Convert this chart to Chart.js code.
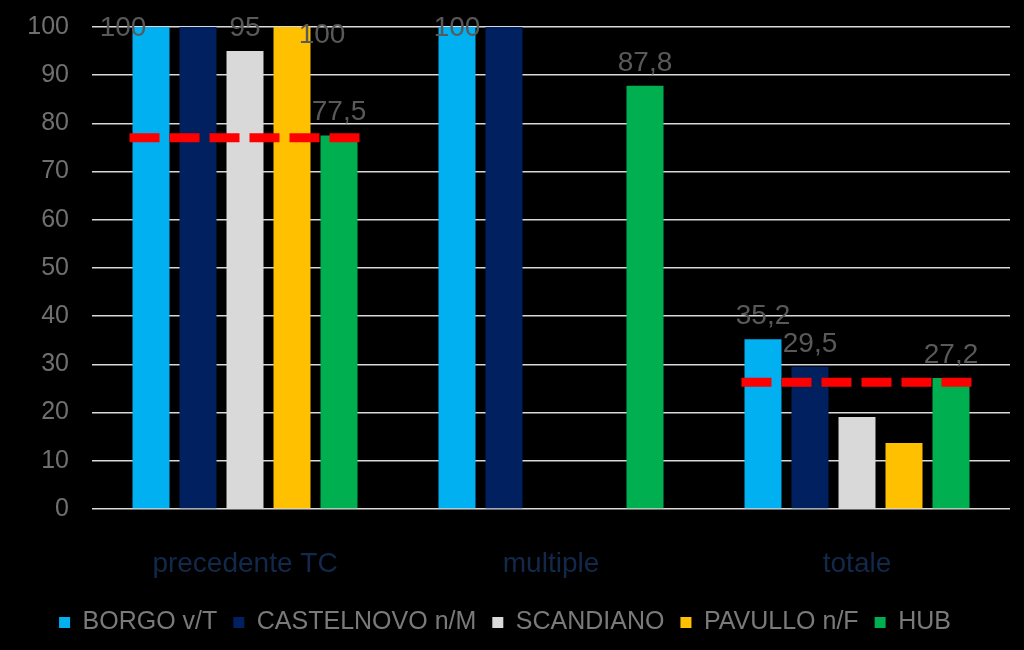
<!DOCTYPE html>
<html>
<head>
<meta charset="utf-8">
<script src="https://cdn.jsdelivr.net/npm/chart.js@4/dist/chart.umd.min.js"></script>
<style>
  html, body { margin: 0; padding: 0; background: #000; }
  #wrap { width: 1024px; height: 650px; }
</style>
</head>
<body>
<div id="wrap"><canvas id="chart"></canvas></div>
<script>
// data
const categories = ['precedente TC', 'multiple', 'totale'];
const seriesNames = ['BORGO v/T', 'CASTELNOVO n/M', 'SCANDIANO', 'PAVULLO n/F', 'HUB'];
const borgo = [100, 100, 35.2];
const castelnovo = [100, 100, 29.5];
const scandiano = [95, null, 19.1];
const pavullo = [100, null, 13.7];
const hub = [77.5, 87.8, 27.2];
const refLine = [77, null, 26.3];      // red dashed reference per group
// which values get a printed label (the source hides some)
const shownLabels = [
  [true, true, true],
  [false, false, true],
  [true, false, false],
  [true, false, false],
  [true, true, true],
];

const FONT = "'Liberation Sans', Arial, sans-serif";
const colors = ['#00B0F0', '#002060', '#D9D9D9', '#FFC000', '#00B050'];
const values = [borgo, castelnovo, scandiano, pavullo, hub];

const fmt = (v) => String(v).replace('.', ',');

const overlay = {
  id: 'overlay',
  afterDatasetsDraw(chart, args, opts) {
    const { ctx } = chart;
    const y = chart.scales.y;
    const first = chart.getDatasetMeta(0).data;
    const last = chart.getDatasetMeta(chart.data.datasets.length - 1).data;

    // red dashed lines
    ctx.save();
    ctx.strokeStyle = '#FF0000';
    ctx.lineWidth = 9;
    ctx.setLineDash([30, 10]);
    refLine.forEach((v, i) => {
      if (v == null) return;
      const x0 = first[i].x - first[i].width / 2 - 3;
      const x1 = last[i].x + last[i].width / 2 + 2;
      const py = y.getPixelForValue(v);
      ctx.beginPath();
      ctx.moveTo(x0, py);
      ctx.lineTo(x1, py);
      ctx.stroke();
    });
    ctx.restore();

    // data labels
    ctx.save();
    ctx.font = '28px ' + FONT;
    ctx.fillStyle = '#595959';
    ctx.textAlign = 'center';
    ctx.textBaseline = 'middle';
    chart.data.datasets.forEach((ds, di) => {
      chart.getDatasetMeta(di).data.forEach((bar, i) => {
        const v = ds.data[i];
        if (v == null || !shownLabels[di][i]) return;
        const n = opts.nudge[di + '-' + i] || [0, 0];
        const cy = Math.max(bar.y - 23, 28) + n[1];
        ctx.fillText(fmt(v), bar.x + n[0], cy);
      });
    });
    ctx.restore();
  }
};

new Chart(document.getElementById('chart'), {
  type: 'bar',
  data: {
    labels: categories,
    datasets: seriesNames.map((name, i) => ({
      label: name,
      data: values[i],
      backgroundColor: colors[i],
      borderWidth: 0,
      categoryPercentage: 0.768,
      barPercentage: 0.787,
    })),
  },
  plugins: [overlay],
  options: {
    responsive: true,
    maintainAspectRatio: false,
    animation: false,
    layout: { padding: { top: 27, right: 14, bottom: 5, left: 0 } },
    scales: {
      x: {
        grid: { display: false, drawTicks: false },
        border: { display: false },
        ticks: { color: '#13294b', font: { family: FONT, size: 28 }, padding: 38 },
        afterFit: (s) => { s.height = 85; },
      },
      y: {
        min: 0, max: 100,
        ticks: { stepSize: 10, color: '#707070', font: { family: FONT, size: 25 }, padding: 23 },
        grid: { color: '#D9D9D9', lineWidth: 1.5, drawTicks: false },
        border: { display: false },
        afterFit: (s) => { s.width = 92; s.paddingTop = 0; s.paddingBottom = 0; },
      },
    },
    plugins: {
      legend: {
        position: 'bottom',
        labels: {
          boxWidth: 11, boxHeight: 11, padding: 16,
          color: '#7a7a7a', font: { family: FONT, size: 25 },
        },
      },
      tooltip: { enabled: false },
      overlay: { nudge: { '0-0': [-28, 0], '3-0': [30, 7] } },
    },
  },
});
</script>
</body>
</html>
